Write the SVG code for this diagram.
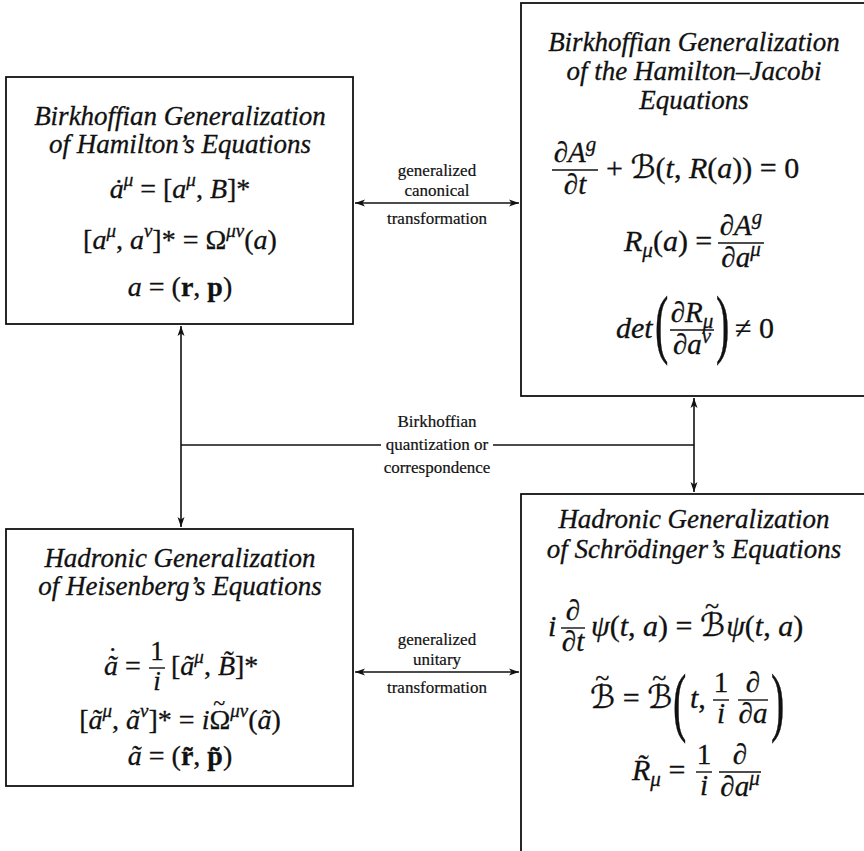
<svg xmlns="http://www.w3.org/2000/svg" width="864" height="851" viewBox="0 0 864 851">
<defs>
<style>
text{fill:#111;stroke:#111;stroke-width:0.3;font-family:"Liberation Serif","Times New Roman",serif}
.t{font-size:27px;font-style:italic;text-anchor:middle}
.m{font-size:28px}
.m2{font-size:30px}
.f{font-size:27px;text-anchor:middle}
.f2{font-size:29px;text-anchor:middle}
.i{font-style:italic}
.s{font-size:19px}
.s2{font-size:21px}
.b{font-weight:bold}
.sc{font-family:"DejaVu Serif","DejaVu Sans",serif;font-style:normal;font-size:32px}
.lb{font-size:17px;text-anchor:middle;stroke-width:0.2}
.bp{font-size:40px}
.box{fill:#fff;stroke:#111;stroke-width:1.8}
.c{stroke:#111;stroke-width:1.6;fill:none}
.bar{stroke:#111;stroke-width:1.4}
</style>
<marker id="ah" viewBox="0 0 10 8" refX="10" refY="4" markerWidth="10" markerHeight="8" markerUnits="userSpaceOnUse" orient="auto-start-reverse"><path d="M0,0.5 L10,4 L0,7.5 L2.5,4 z" fill="#111"/></marker>
</defs>
<rect width="864" height="851" fill="#fff"/>

<g id="birkhoff-hamilton">
<rect class="box" x="6" y="77" width="347" height="247"/>
<text class="t" x="180" y="125">Birkhoffian Generalization</text>
<text class="t" x="180" y="153">of Hamilton’s Equations</text>
<text class="m" x="180" y="198" text-anchor="middle"><tspan class="i">ȧ</tspan><tspan class="s i" dy="-12">μ</tspan><tspan dy="12"> = [</tspan><tspan class="i">a</tspan><tspan class="s i" dy="-12">μ</tspan><tspan dy="12">, </tspan><tspan class="i">B</tspan>]*</text>
<text class="m" x="180" y="249" text-anchor="middle">[<tspan class="i">a</tspan><tspan class="s i" dy="-12">μ</tspan><tspan dy="12">, </tspan><tspan class="i">a</tspan><tspan class="s i" dy="-12">ν</tspan><tspan dy="12">]* = Ω</tspan><tspan class="s i" dy="-12">μν</tspan><tspan dy="12">(</tspan><tspan class="i">a</tspan>)</text>
<text class="m" x="180" y="296" text-anchor="middle"><tspan class="i">a</tspan> = (<tspan class="b">r</tspan>, <tspan class="b">p</tspan>)</text>
</g>

<g id="birkhoff-hamilton-jacobi">
<rect class="box" x="521" y="3" width="360" height="393"/>
<text class="t" x="694" y="51">Birkhoffian Generalization</text>
<text class="t" x="694" y="80">of the Hamilton–Jacobi</text>
<text class="t" x="694" y="109">Equations</text>
<text class="f2" x="575" y="162"><tspan class="i">∂A</tspan><tspan class="s2 i" dy="-11">g</tspan></text>
<line class="bar" x1="552" y1="170" x2="598" y2="170"/>
<text class="f2" x="575" y="194"><tspan class="i">∂t</tspan></text>
<text class="m2" x="606" y="178">+ <tspan class="sc">ℬ</tspan>(<tspan class="i">t</tspan>, <tspan class="i">R</tspan>(<tspan class="i">a</tspan>)) = 0</text>
<text class="m2" x="624" y="251"><tspan class="i">R</tspan><tspan class="s2 i" dy="6">μ</tspan><tspan dy="-6">(</tspan><tspan class="i">a</tspan>) =</text>
<text class="f2" x="741" y="235"><tspan class="i">∂A</tspan><tspan class="s2 i" dy="-11">g</tspan></text>
<line class="bar" x1="718" y1="243" x2="764" y2="243"/>
<text class="f2" x="741" y="267"><tspan class="i">∂a</tspan><tspan class="s2 i" dy="-11">μ</tspan></text>
<text class="m2 i" x="616" y="338">det</text>
<text class="bp" transform="translate(655,349) scale(1,1.9)">(</text>
<text class="f2" x="692" y="322"><tspan class="i">∂R</tspan><tspan class="s2 i" dy="6">μ</tspan></text>
<line class="bar" x1="670" y1="330" x2="714" y2="330"/>
<text class="f2" x="692" y="354"><tspan class="i">∂a</tspan><tspan class="s2 i" dy="-11">ν</tspan></text>
<text class="bp" transform="translate(716,349) scale(1,1.9)">)</text>
<text class="m2" x="735" y="338">≠ 0</text>
</g>

<g id="hadronic-heisenberg">
<rect class="box" x="6" y="529" width="347" height="257"/>
<text class="t" x="180" y="567">Hadronic Generalization</text>
<text class="t" x="180" y="595">of Heisenberg’s Equations</text>
<text class="m" x="104" y="675"><tspan class="i">ã</tspan><tspan dx="-10" dy="-9">˙</tspan><tspan dx="0.7" dy="9"> =</tspan></text>
<text class="f" x="157" y="660">1</text>
<line class="bar" x1="149" y1="668" x2="165" y2="668"/>
<text class="f i" x="157" y="690">i</text>
<text class="m" x="171" y="675">[<tspan class="i">ã</tspan><tspan class="s i" dy="-12">μ</tspan><tspan dy="12">, </tspan><tspan class="i">B̃</tspan>]*</text>
<text class="m" x="180" y="729" text-anchor="middle">[<tspan class="i">ã</tspan><tspan class="s i" dy="-12">μ</tspan><tspan dy="12">, </tspan><tspan class="i">ã</tspan><tspan class="s i" dy="-12">ν</tspan><tspan dy="12">]* = </tspan><tspan class="i">i</tspan>Ω<tspan dx="-17" dy="-19" font-size="22">~</tspan><tspan class="s i" dx="5" dy="7">μν</tspan><tspan dy="12">(</tspan><tspan class="i">ã</tspan>)</text>
<text class="m" x="180" y="765" text-anchor="middle"><tspan class="i">ã</tspan> = (<tspan class="b">r̃</tspan>, <tspan class="b">p̃</tspan>)</text>
</g>

<g id="hadronic-schrodinger">
<rect class="box" x="521" y="494" width="360" height="400"/>
<text class="t" x="694" y="528">Hadronic Generalization</text>
<text class="t" x="694" y="558">of Schrödinger’s Equations</text>
<text class="m2 i" x="548" y="636">i</text>
<text class="f2 i" x="573" y="620">∂</text>
<line class="bar" x1="561" y1="628" x2="585" y2="628"/>
<text class="f2 i" x="573" y="651">∂t</text>
<text class="m2" x="591" y="636"><tspan class="i">ψ</tspan>(<tspan class="i">t</tspan>, <tspan class="i">a</tspan>) = <tspan class="sc">ℬ</tspan><tspan dx="-20" dy="-22" font-size="26">~</tspan><tspan class="i" dx="7" dy="22">ψ</tspan>(<tspan class="i">t</tspan>, <tspan class="i">a</tspan>)</text>
<text class="m2" x="590" y="708"><tspan class="sc">ℬ</tspan><tspan dx="-20" dy="-22" font-size="26">~</tspan><tspan dx="6" dy="22"> = </tspan><tspan class="sc">ℬ</tspan><tspan dx="-20" dy="-22" font-size="26">~</tspan></text>
<text class="bp" transform="translate(673,727) scale(1,1.9)">(</text>
<text class="m2" x="690" y="708"><tspan class="i">t</tspan>,</text>
<text class="f2" x="721" y="692">1</text>
<line class="bar" x1="713" y1="700" x2="729" y2="700"/>
<text class="f2 i" x="721" y="723">i</text>
<text class="f2 i" x="753" y="692">∂</text>
<line class="bar" x1="738" y1="700" x2="768" y2="700"/>
<text class="f2 i" x="753" y="723">∂a</text>
<text class="bp" transform="translate(771,727) scale(1,1.9)">)</text>
<text class="m2" x="632" y="780"><tspan class="i">R̃</tspan><tspan class="s2 i" dy="6">μ</tspan><tspan dy="-6"> =</tspan></text>
<text class="f2" x="704" y="764">1</text>
<line class="bar" x1="696" y1="772" x2="712" y2="772"/>
<text class="f2 i" x="704" y="795">i</text>
<text class="f2 i" x="740" y="764">∂</text>
<line class="bar" x1="719" y1="772" x2="761" y2="772"/>
<text class="f2" x="740" y="796"><tspan class="i">∂a</tspan><tspan class="s2 i" dy="-11">μ</tspan></text>
</g>

<g id="connectors">
<line class="c" x1="355" y1="203" x2="519" y2="203" marker-start="url(#ah)" marker-end="url(#ah)"/>
<text class="lb" x="437" y="176">generalized</text>
<text class="lb" x="437" y="196">canonical</text>
<text class="lb" x="437" y="224">transformation</text>
<line class="c" x1="355" y1="672" x2="519" y2="672" marker-start="url(#ah)" marker-end="url(#ah)"/>
<text class="lb" x="437" y="645">generalized</text>
<text class="lb" x="437" y="665">unitary</text>
<text class="lb" x="437" y="693">transformation</text>
<line class="c" x1="181" y1="326" x2="181" y2="527" marker-start="url(#ah)" marker-end="url(#ah)"/>
<line class="c" x1="181" y1="445" x2="381" y2="445"/>
<line class="c" x1="493" y1="445" x2="694" y2="445"/>
<line class="c" x1="694" y1="398" x2="694" y2="492" marker-start="url(#ah)" marker-end="url(#ah)"/>
<text class="lb" x="437" y="427">Birkhoffian</text>
<text class="lb" x="437" y="450">quantization or</text>
<text class="lb" x="437" y="473">correspondence</text>
</g>
</svg>
